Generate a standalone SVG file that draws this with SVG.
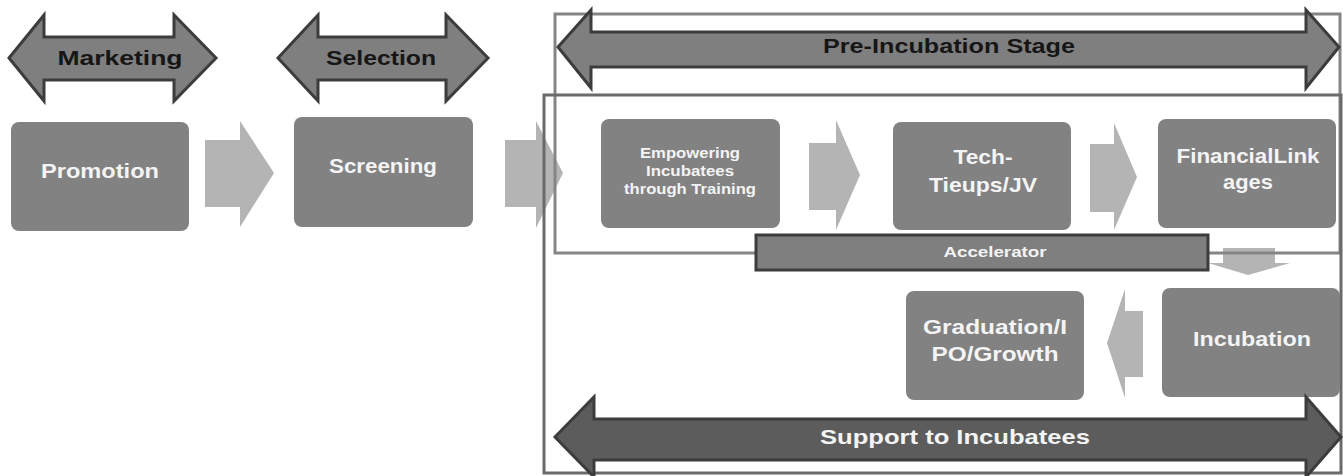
<svg xmlns="http://www.w3.org/2000/svg" width="1343" height="476" viewBox="0 0 1343 476">
<style>
.box{fill:#828282;}
.flow{fill:#b4b4b4;}
.stage{fill:#7f7f7f;stroke:#3c3c3c;stroke-width:3;stroke-linejoin:miter;}
.stagedark{fill:#5c5c5c;stroke:#3c3c3c;stroke-width:3;}
.frame{fill:none;stroke-width:3;}
text{font-family:"Liberation Sans",Arial,sans-serif;font-weight:bold;text-anchor:middle;}
.dt{fill:#161616;font-size:20px;}
.wt{fill:#f4f4f4;font-size:21px;}
.st{fill:#f4f4f4;font-size:14.5px;}
</style>
<rect width="1343" height="476" fill="#ffffff"/>

<g id="connectors">
<polygon class="flow" points="205,140 240,140 240,121 274,173 240,227 240,207 205,207"/>
<polygon class="flow" points="505,140 536,140 536,121 563,173 536,228 536,207 505,207"/>
<polygon class="flow" points="809,143 836,143 836,120 860,175 836,230 836,210 809,210"/>
<polygon class="flow" points="1090,144 1114,144 1114,123 1137,177 1114,230 1114,212 1090,212"/>
<polygon class="flow" points="1223,248 1275,248 1275,263 1290,263 1248,275 1208,263 1223,263"/>
<polygon class="flow" points="1143,311 1125,311 1125,289 1107,343 1125,398 1125,377 1143,377"/>
</g>

<g id="frames">
<rect class="frame" x="555" y="14" width="785" height="239" stroke="#858585"/>
<rect class="frame" x="544" y="95" width="797" height="378" stroke="#6a6a6a"/>
</g>

<g id="marketing">
<polygon class="stage" points="9,58 44,15 44,37 174,37 174,15 216,58 174,101 174,80 44,80 44,101"/>
<text class="dt" x="120" y="65" textLength="125" lengthAdjust="spacingAndGlyphs">Marketing</text>
</g>
<g id="selection">
<polygon class="stage" points="278,58 318,15 318,37 446,37 446,15 488,58 446,101 446,80 318,80 318,101"/>
<text class="dt" x="381" y="65" textLength="110" lengthAdjust="spacingAndGlyphs">Selection</text>
</g>
<g id="pre-incubation">
<polygon class="stage" points="558,47 591,10 591,32 1306,32 1306,10 1339,47 1306,88 1306,67 591,67 591,88"/>
<text class="dt" x="949" y="53" font-size="21" textLength="252" lengthAdjust="spacingAndGlyphs">Pre-Incubation Stage</text>
</g>

<g id="promotion">
<rect class="box" x="11" y="122" width="178" height="109" rx="8"/>
<text class="wt" x="100" y="178" textLength="118" lengthAdjust="spacingAndGlyphs">Promotion</text>
</g>
<g id="screening">
<rect class="box" x="294" y="117" width="179" height="110" rx="8"/>
<text class="wt" x="383" y="173" textLength="108" lengthAdjust="spacingAndGlyphs">Screening</text>
</g>
<g id="empowering">
<rect class="box" x="601" y="119" width="179" height="109" rx="8"/>
<text class="st" x="690" y="158" textLength="100" lengthAdjust="spacingAndGlyphs">Empowering</text>
<text class="st" x="690" y="176" textLength="88" lengthAdjust="spacingAndGlyphs">Incubatees</text>
<text class="st" x="690" y="194" textLength="132" lengthAdjust="spacingAndGlyphs">through Training</text>
</g>
<g id="tech">
<rect class="box" x="893" y="122" width="178" height="108" rx="8"/>
<text class="wt" x="983" y="164" textLength="59" lengthAdjust="spacingAndGlyphs">Tech-</text>
<text class="wt" x="983" y="192" textLength="108" lengthAdjust="spacingAndGlyphs">Tieups/JV</text>
</g>
<g id="financial">
<rect class="box" x="1158" y="119" width="178" height="109" rx="8"/>
<text class="wt" x="1248" y="163" textLength="143" lengthAdjust="spacingAndGlyphs">FinancialLink</text>
<text class="wt" x="1248" y="189" textLength="50" lengthAdjust="spacingAndGlyphs">ages</text>
</g>
<g id="accelerator">
<rect x="756" y="235" width="452" height="35" fill="#7f7f7f" stroke="#3c3c3c" stroke-width="3"/>
<text x="995" y="257" fill="#f4f4f4" font-size="15" textLength="103" lengthAdjust="spacingAndGlyphs">Accelerator</text>
</g>
<g id="graduation">
<rect class="box" x="906" y="291" width="178" height="109" rx="8"/>
<text class="wt" x="995" y="334" textLength="144" lengthAdjust="spacingAndGlyphs">Graduation/I</text>
<text class="wt" x="995" y="361" textLength="127" lengthAdjust="spacingAndGlyphs">PO/Growth</text>
</g>
<g id="incubation">
<rect class="box" x="1162" y="288" width="178" height="109" rx="8"/>
<text class="wt" x="1252" y="346" textLength="118" lengthAdjust="spacingAndGlyphs">Incubation</text>
</g>
<g id="support">
<polygon class="stagedark" points="555,437 594,397 594,419 1306,419 1306,397 1341,437 1306,477 1306,460 594,460 594,477"/>
<text class="wt" x="955" y="444" textLength="270" lengthAdjust="spacingAndGlyphs">Support to Incubatees</text>
</g>
</svg>
